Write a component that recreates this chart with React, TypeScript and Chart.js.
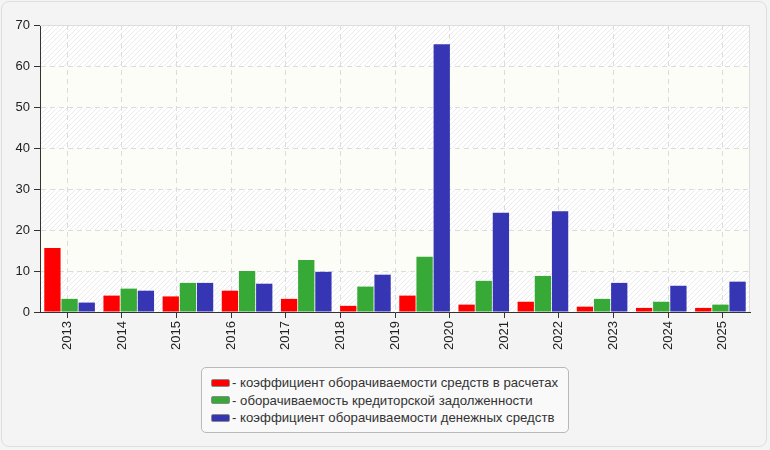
import React, { useEffect, useRef } from "react";
import { Chart, registerables } from "chart.js";

Chart.register(...registerables);

const yearLabels = ["2013", "2014", "2015", "2016", "2017", "2018", "2019", "2020", "2021", "2022", "2023", "2024", "2025"];
const barSlots = ["1", "2", "3", "4", "5", "6", "7", "8", "9", "10", "11", "12"];

const seriesNames = [
  "коэффициент оборачиваемости средств в расчетах",
  "оборачиваемость кредиторской задолженности",
  "коэффициент оборачиваемости денежных средств",
];
const receivablesTurnover = [15.6, 4.0, 3.8, 5.2, 3.2, 1.5, 4.0, 1.8, 2.5, 1.3, 1.0, 1.0];
const payablesTurnover = [3.2, 5.7, 7.1, 10.0, 12.7, 6.2, 13.5, 7.6, 8.8, 3.2, 2.5, 1.8];
const cashTurnover = [2.3, 5.2, 7.1, 6.9, 9.8, 9.1, 65.3, 24.2, 24.6, 7.1, 6.4, 7.4];
const seriesColors = ["#ff0000", "#36a936", "#3636b4"];

const FONT = "'Liberation Sans', Arial, sans-serif";

const bgPlugin = {
  id: "bandBg",
  beforeDraw(chart: any) {
    const { ctx, chartArea, scales } = chart;
    const { left, right } = chartArea;
    const y = scales.y;
    const tile = document.createElement("canvas");
    tile.width = 5;
    tile.height = 5;
    const tc = tile.getContext("2d")!;
    tc.fillStyle = "#ffffff";
    tc.fillRect(0, 0, 5, 5);
    tc.strokeStyle = "#ebebeb";
    tc.lineWidth = 1;
    tc.beginPath();
    tc.moveTo(-1, 6);
    tc.lineTo(6, -1);
    tc.moveTo(-1, 1);
    tc.lineTo(1, -1);
    tc.moveTo(4, 6);
    tc.lineTo(6, 4);
    tc.stroke();
    const pattern = ctx.createPattern(tile, "repeat");
    ctx.save();
    for (let v = 0; v < 70; v += 10) {
      const y0 = y.getPixelForValue(v);
      const y1 = y.getPixelForValue(v + 10);
      ctx.fillStyle = (v / 10) % 2 === 0 ? pattern : "#fcfdf7";
      ctx.fillRect(left, y1, right - left, y0 - y1);
    }
    ctx.restore();
  },
  beforeDatasetsDraw(chart: any) {
    const { ctx, chartArea } = chart;
    const { left, right, top, bottom } = chartArea;
    ctx.save();
    ctx.strokeStyle = "#dddddd";
    ctx.lineWidth = 1;
    ctx.beginPath();
    ctx.moveTo(left, top + 0.5);
    ctx.lineTo(right - 0.5, top + 0.5);
    ctx.lineTo(right - 0.5, bottom);
    ctx.stroke();
    ctx.restore();
  },
};

export default function App() {
  const ref = useRef<HTMLCanvasElement>(null);

  useEffect(() => {
    document.body.style.margin = "0";
    if (!ref.current) return;
    const data = [receivablesTurnover, payablesTurnover, cashTurnover];
    const chart = new Chart(ref.current, {
      type: "bar",
      data: {
        labels: barSlots,
        datasets: data.map((d, i) => ({
          label: seriesNames[i],
          data: d,
          backgroundColor: seriesColors[i],
          borderWidth: 0,
          categoryPercentage: 0.87,
          barPercentage: 0.95,
          xAxisID: "x",
        })),
      },
      options: {
        animation: false,
        responsive: false,
        devicePixelRatio: 1,
        layout: { padding: { left: 0, right: 20, top: 25, bottom: 0 } },
        plugins: { legend: { display: false }, tooltip: { enabled: false } },
        scales: {
          x: {
            type: "category",
            display: false,
            offset: true,
            grid: { display: false },
          },
          x2: {
            type: "category",
            labels: yearLabels,
            position: "bottom",
            offset: true,
            grid: {
              offset: false,
              color: "#dcdcdc",
              tickColor: "#333333",
              tickLength: 6,
              lineWidth: 1,
            },
            border: { color: "#333333", width: 1, dash: [5, 4] },
            ticks: {
              autoSkip: false,
              maxRotation: 90,
              minRotation: 90,
              padding: 3,
              color: "#222222",
              font: { size: 13, family: FONT },
            },
            afterFit: (s: any) => {
              s.height = 138;
            },
          },
          y: {
            min: 0,
            max: 70,
            ticks: {
              stepSize: 10,
              padding: 4,
              color: "#222222",
              font: { size: 13, family: FONT },
            },
            grid: {
              color: (c: any) =>
                c.tick && (c.tick.value === 0 || c.tick.value === 70) ? "rgba(0,0,0,0)" : "#dcdcdc",
              tickColor: "#333333",
              tickLength: 6,
            },
            border: { color: "#333333", width: 1, dash: [5, 4] },
            afterFit: (s: any) => {
              s.width = 40;
            },
          },
        },
      },
      plugins: [bgPlugin],
    });
    return () => chart.destroy();
  }, []);

  return (
    <div
      style={{
        position: "relative",
        width: 770,
        height: 450,
        background: "#f4f4f4",
        fontFamily: FONT,
        overflow: "hidden",
      }}
    >
      <div
        style={{
          position: "absolute",
          left: 1,
          top: 1,
          width: 766,
          height: 446,
          border: "1px solid #dedede",
          borderRadius: 8,
          boxSizing: "border-box",
        }}
      />
      <canvas ref={ref} width={770} height={450} style={{ position: "absolute", left: 0, top: 0 }} />
      <div
        style={{
          position: "absolute",
          left: 201,
          top: 367,
          width: 368,
          height: 66,
          boxSizing: "border-box",
          border: "1px solid #b9b9b9",
          borderRadius: 5,
          background: "#f9f9f9",
          paddingTop: 6,
          paddingLeft: 9,
        }}
      >
        {seriesNames.map((name, i) => (
          <div
            key={name}
            style={{ display: "flex", alignItems: "center", height: 17.5, fontSize: 13.2, color: "#333333", whiteSpace: "nowrap" }}
          >
            <span
              style={{
                display: "inline-block",
                width: 19,
                height: 8,
                boxSizing: "border-box",
                background: seriesColors[i],
                border: "1px solid #8a8a8a",
                borderRadius: 2,
                marginRight: 2,
              }}
            />
            <span>- {name}</span>
          </div>
        ))}
      </div>
    </div>
  );
}
